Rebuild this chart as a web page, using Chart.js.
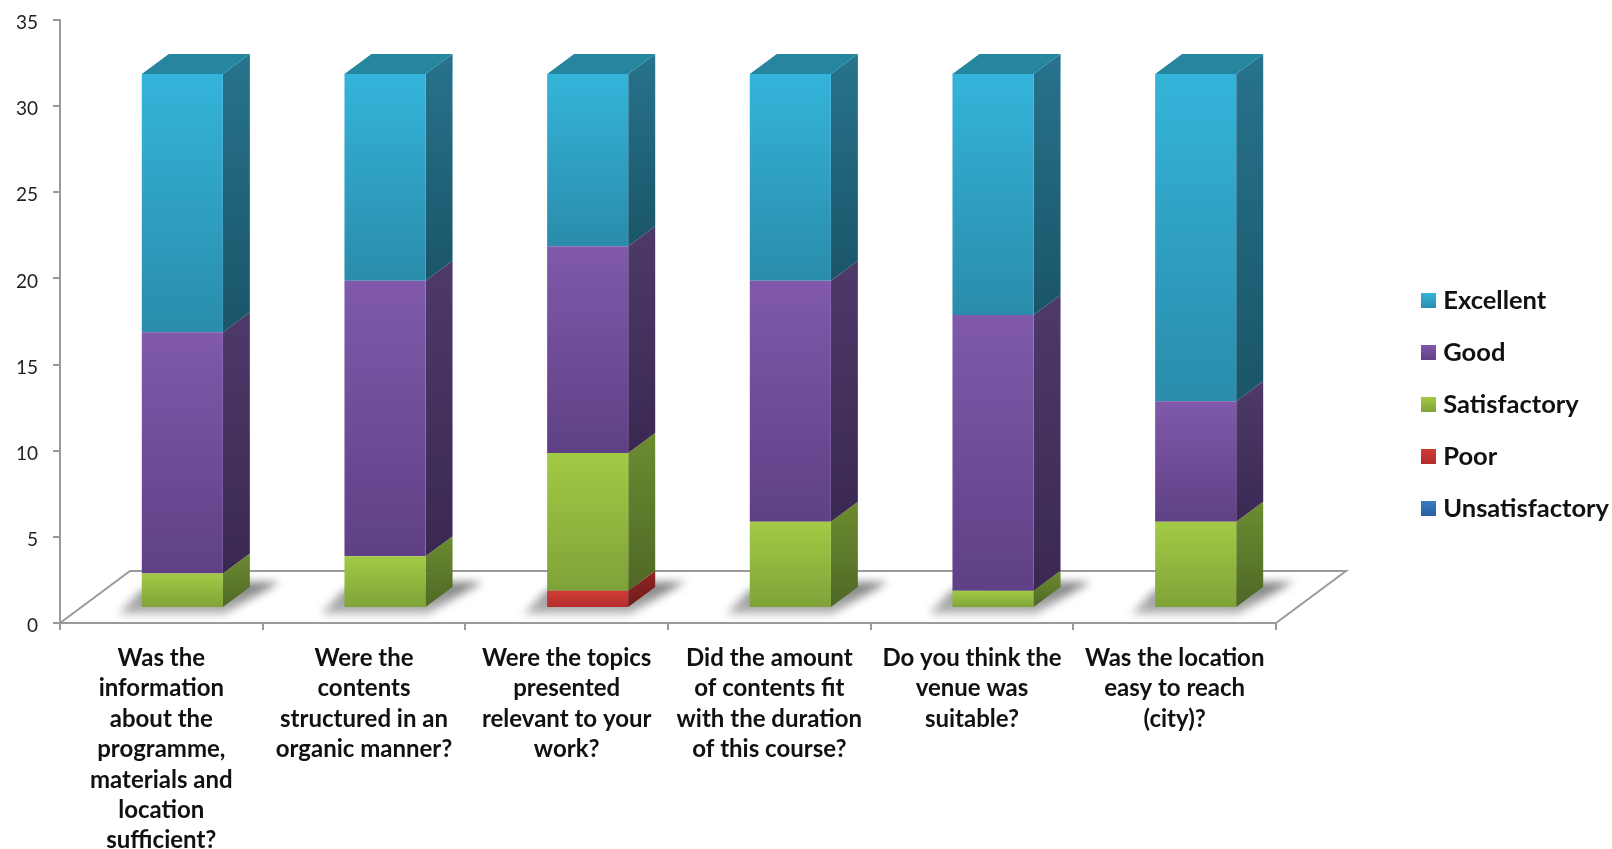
<!DOCTYPE html>
<html>
<head>
<meta charset="utf-8">
<style>
  html, body { margin: 0; padding: 0; background: #fff; }
  canvas { display: block; }
</style>
<script src="https://cdn.jsdelivr.net/npm/chart.js@4/dist/chart.umd.min.js"></script>
</head>
<body>
<canvas id="surveyChart" width="1612" height="849"></canvas>
<script>
var questions = [
    ['Was the', 'information', 'about the', 'programme,', 'materials and', 'location', 'sufficient?'],
    ['Were the', 'contents', 'structured in an', 'organic manner?'],
    ['Were the topics', 'presented', 'relevant to your', 'work?'],
    ['Did the amount', 'of contents fit', 'with the duration', 'of this course?'],
    ['Do you think the', 'venue was', 'suitable?'],
    ['Was the location', 'easy to reach', '(city)?']
];
var unsatisfactory = [0, 0, 0, 0, 0, 0];
var poor = [0, 0, 1, 0, 0, 0];
var satisfactory = [2, 3, 8, 5, 1, 5];
var good = [14, 16, 12, 14, 16, 7];
var excellent = [15, 12, 10, 12, 14, 19];

// front, front bottom, side, side bottom
var palette = {
    Unsatisfactory: ['#3a7cc4', '#2a5f9e', '#234f80', '#1a3d66'],
    Poor: ['#d13b37', '#b02c2a', '#8f2523', '#701c1b'],
    Satisfactory: ['#a3ca45', '#7fa238', '#6c8c30', '#4f6826'],
    Good: ['#8059ab', '#5f4085', '#4e3a69', '#3a2853'],
    Excellent: ['#34b4da', '#2a8cab', '#27738d', '#1a5568']
};
var topFace = '#26859f';

// projection of the 3D look, pixels
var barShift = { x: 21, y: -15 };
var barDepth = { x: 27, y: -20 };
var floorDepth = { x: 70, y: -52 };

var seriesList = [
    ['Unsatisfactory', unsatisfactory],
    ['Poor', poor],
    ['Satisfactory', satisfactory],
    ['Good', good],
    ['Excellent', excellent]
];

function frontFill(c) {
    var cols = palette[c.dataset.label];
    if (c.type !== 'data' || !c.chart.chartArea) return cols[0];
    var y = c.chart.scales.y;
    var below = 0;
    for (var i = 0; i < c.datasetIndex; i++) below += seriesList[i][1][c.dataIndex];
    var g = c.chart.ctx.createLinearGradient(0, y.getPixelForValue(below + c.raw), 0, y.getPixelForValue(below));
    g.addColorStop(0, cols[0]);
    g.addColorStop(1, cols[1]);
    return g;
}

function makeSwatch(name) {
    var cv = document.createElement('canvas');
    cv.width = 15;
    cv.height = 15;
    var x = cv.getContext('2d');
    var g = x.createLinearGradient(0, 0, 0, 15);
    g.addColorStop(0, palette[name][0]);
    g.addColorStop(1, palette[name][1]);
    x.fillStyle = g;
    x.fillRect(0, 0, 15, 15);
    return cv;
}

var depthPlugin = {
    id: 'depth',
    afterLayout: function (chart) {
        // long labels run below the box kept for the axis, don't clip them
        chart.scales.x.bottom = chart.height;
    },
    beforeDatasetsDraw: function (chart) {
        var ctx = chart.ctx, a = chart.chartArea, xs = chart.scales.x, ys = chart.scales.y;
        var y0 = ys.getPixelForValue(0);

        // floor
        ctx.save();
        ctx.strokeStyle = '#9a9a9a';
        ctx.lineWidth = 2;
        ctx.beginPath();
        ctx.moveTo(a.left, y0);
        ctx.lineTo(a.left + floorDepth.x, y0 + floorDepth.y);
        ctx.lineTo(xs.right + floorDepth.x, y0 + floorDepth.y);
        ctx.lineTo(xs.right, y0);
        ctx.stroke();
        ctx.restore();

        // shadows on the floor
        var first = chart.getDatasetMeta(seriesList.length - 1).data;
        first.forEach(function (bar) {
            var l = bar.x - bar.width / 2 + barShift.x;
            var r = bar.x + bar.width / 2 + barShift.x;
            var b = y0 + barShift.y;
            ctx.save();
            ctx.filter = 'blur(4px)';
            var g = ctx.createLinearGradient(0, b + 7, 0, b - 27);
            g.addColorStop(0, 'rgba(185,185,185,0.95)');
            g.addColorStop(1, 'rgba(115,115,115,0.95)');
            ctx.fillStyle = g;
            ctx.beginPath();
            ctx.moveTo(l - 24, b + 6);
            ctx.lineTo(r + 2, b + 6);
            ctx.lineTo(r + 57, b - 26);
            ctx.lineTo(r + 28, b - 26);
            ctx.lineTo(l, b - 18);
            ctx.closePath();
            ctx.fill();
            ctx.restore();
        });

        // side and top faces
        chart.data.datasets.forEach(function (ds, di) {
            var cols = palette[ds.label];
            chart.getDatasetMeta(di).data.forEach(function (bar, i) {
                if (!ds.data[i]) return;
                var r = bar.x + bar.width / 2 + barShift.x;
                var l = bar.x - bar.width / 2 + barShift.x;
                var t = bar.y + barShift.y;
                var b = bar.base + barShift.y;
                var g = ctx.createLinearGradient(0, t + barDepth.y, 0, b);
                g.addColorStop(0, cols[2]);
                g.addColorStop(1, cols[3]);
                ctx.fillStyle = g;
                ctx.beginPath();
                ctx.moveTo(r, t);
                ctx.lineTo(r + barDepth.x, t + barDepth.y);
                ctx.lineTo(r + barDepth.x, b + barDepth.y);
                ctx.lineTo(r, b);
                ctx.closePath();
                ctx.fill();
                if (di === chart.data.datasets.length - 1) {
                    ctx.fillStyle = topFace;
                    ctx.beginPath();
                    ctx.moveTo(l, t);
                    ctx.lineTo(l + barDepth.x, t + barDepth.y);
                    ctx.lineTo(r + barDepth.x, t + barDepth.y);
                    ctx.lineTo(r, t);
                    ctx.closePath();
                    ctx.fill();
                }
            });
        });

        // front faces go through the library, just moved up onto the floor
        ctx.save();
        ctx.translate(barShift.x, barShift.y);
    },
    afterDatasetsDraw: function (chart) {
        chart.ctx.restore();
    }
};

new Chart(document.getElementById('surveyChart'), {
    type: 'bar',
    plugins: [depthPlugin],
    data: {
        labels: questions,
        datasets: seriesList.map(function (s) {
            return { label: s[0], data: s[1], backgroundColor: frontFill, borderWidth: 0, clip: false };
        })
    },
    options: {
        responsive: false,
        animation: false,
        devicePixelRatio: 1,
        categoryPercentage: 1,
        barPercentage: 0.4,
        layout: { padding: { top: 20, bottom: 60 } },
        plugins: {
            tooltip: { enabled: false },
            legend: {
                position: 'right',
                reverse: true,
                maxWidth: 212,
                labels: {
                    usePointStyle: true,
                    pointStyleWidth: 4,
                    padding: 26.5,
                    color: '#111',
                    font: { family: 'Lato', size: 25.5, weight: 'bold' },
                    generateLabels: function (chart) {
                        var items = Chart.defaults.plugins.legend.labels.generateLabels(chart);
                        items.forEach(function (it) {
                            it.pointStyle = makeSwatch(it.text);
                        });
                        return items;
                    }
                }
            }
        },
        scales: {
            x: {
                stacked: true,
                afterFit: function (s) { s.height = 166; },
                border: { color: '#9a9a9a', width: 2 },
                grid: { drawOnChartArea: false, color: '#9a9a9a', tickLength: 7, lineWidth: 2 },
                ticks: {
                    autoSkip: false,
                    maxRotation: 0,
                    padding: 13,
                    color: '#111',
                    font: { family: 'Lato', size: 24, weight: 'bold', lineHeight: 1.267 }
                }
            },
            y: {
                stacked: true,
                min: 0,
                max: 35,
                afterFit: function (s) {
                    s.width = 60;
                    // tick padding would otherwise push the plot top down
                    s.paddingTop = 0;
                    s.paddingBottom = 0;
                },
                border: { color: '#9a9a9a', width: 2 },
                grid: { drawOnChartArea: false, color: '#9a9a9a', tickLength: 7, lineWidth: 2 },
                ticks: {
                    stepSize: 5,
                    padding: 15,
                    labelOffset: 3,
                    color: '#222',
                    font: { family: 'Lato', size: 19 }
                }
            },
            // empty axis, keeps the gap between the floor and the legend
            spacer: {
                position: 'right',
                afterFit: function (s) { s.width = 124; },
                border: { display: false },
                grid: { display: false },
                ticks: { display: false }
            }
        }
    }
});
</script>
</body>
</html>
